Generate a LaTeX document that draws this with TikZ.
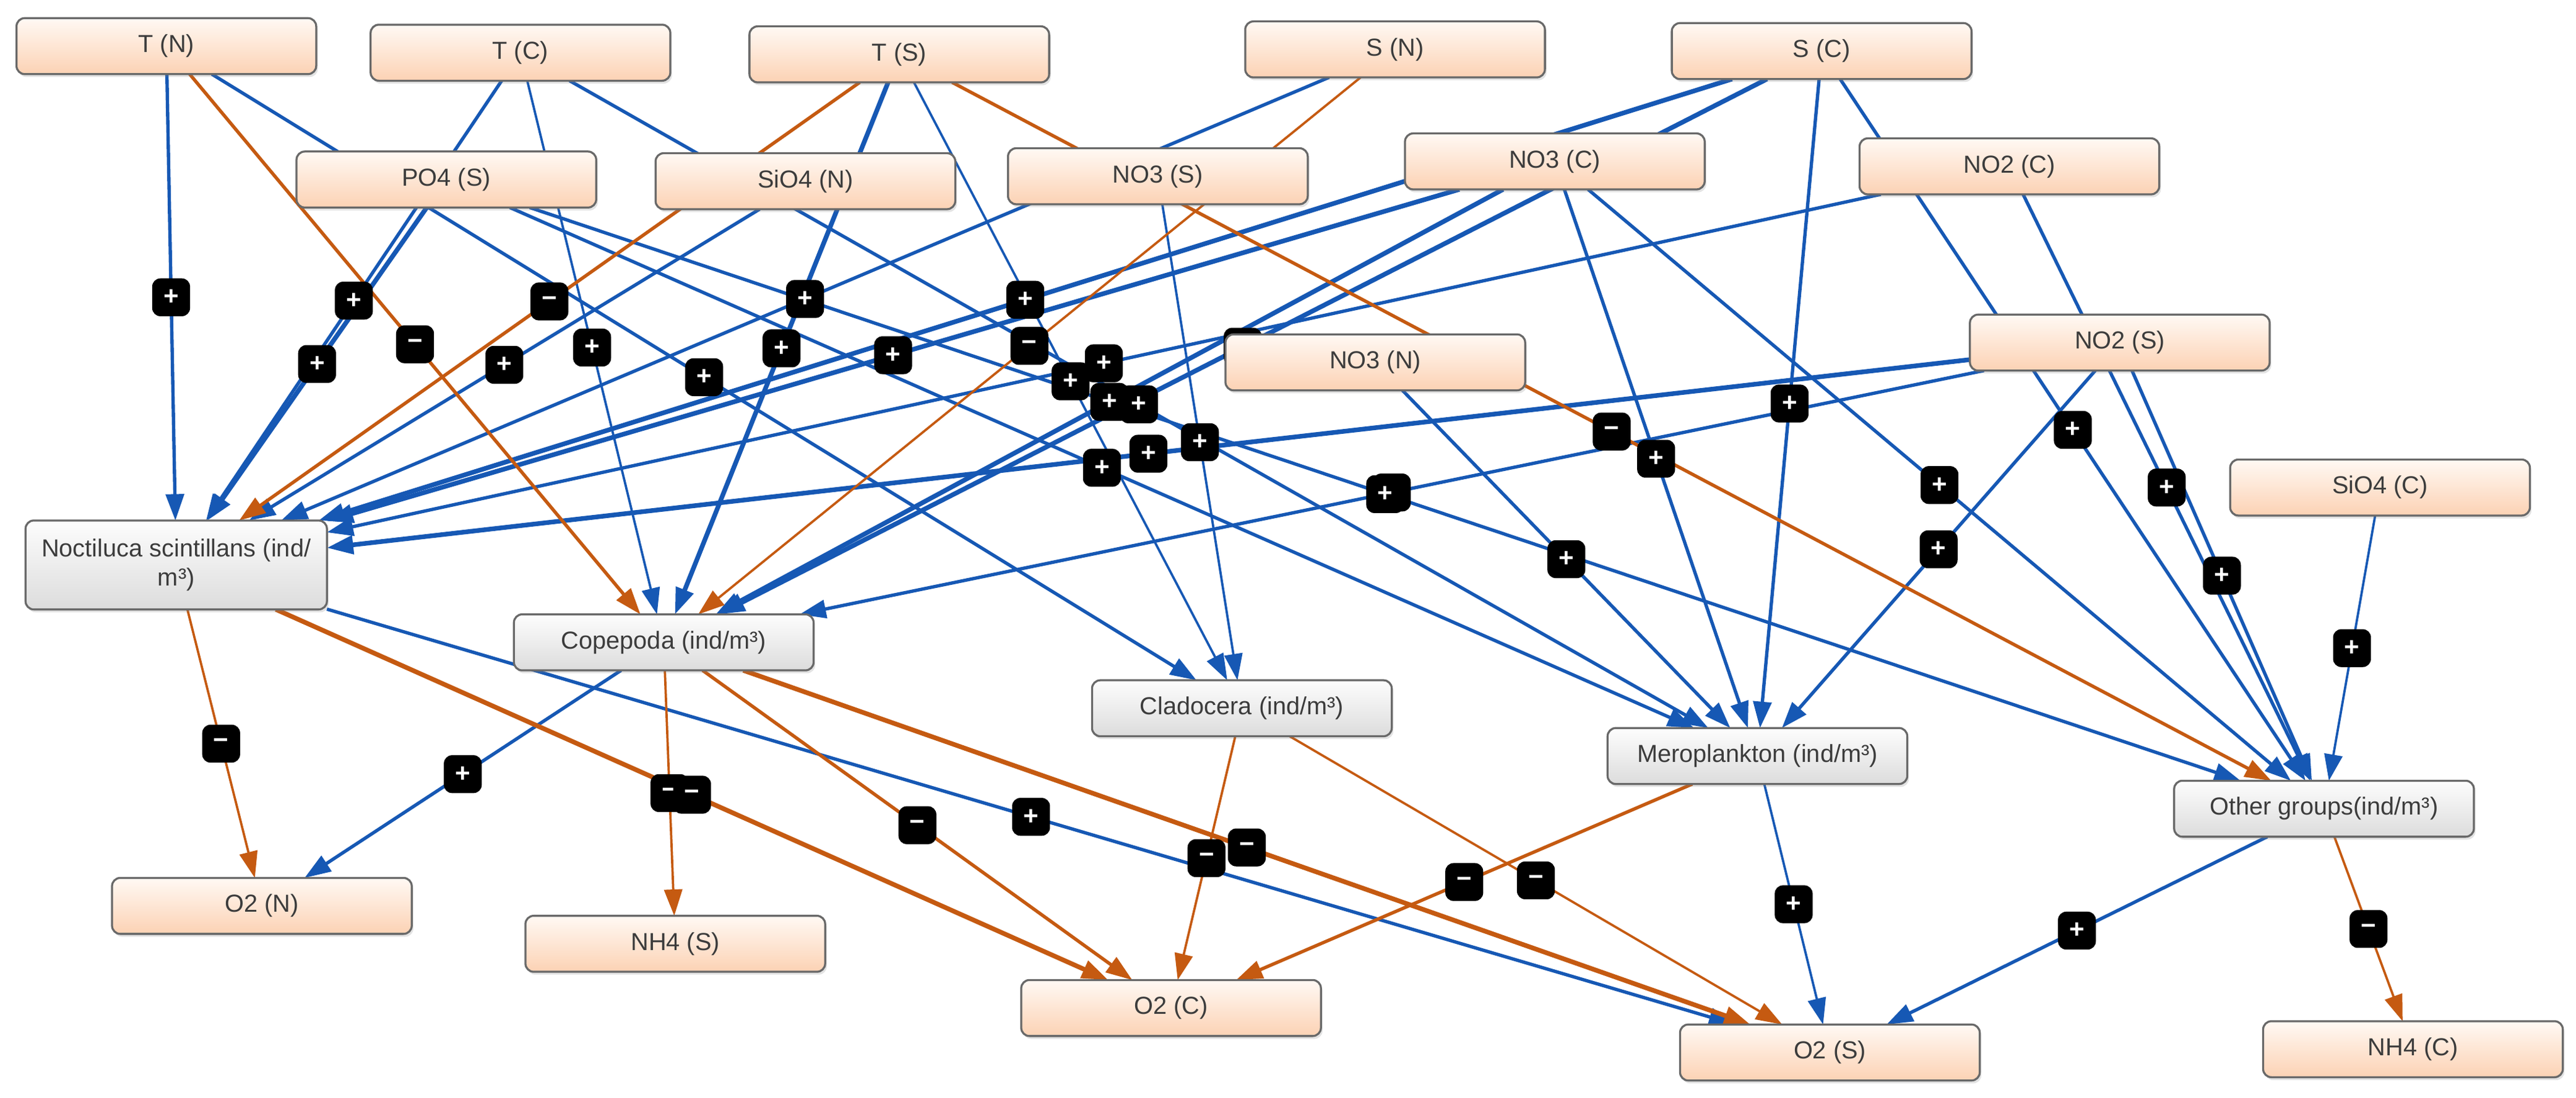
\documentclass[tikz,border=0pt]{standalone}
\usepackage{fontspec}
\setmainfont{Liberation Sans}
\usetikzlibrary{arrows.meta,shadows}
\definecolor{eblue}{RGB}{22,88,180}
\definecolor{eorange}{RGB}{197,90,17}
\definecolor{peachB}{RGB}{252,210,180}
\definecolor{peachT}{RGB}{255,249,244}
\definecolor{grayB}{RGB}{220,220,220}
\definecolor{grayT}{RGB}{253,253,253}
\definecolor{boxline}{RGB}{105,105,105}
\definecolor{txt}{RGB}{60,60,60}
\pgfdeclarelayer{edgelayer}
\pgfdeclarelayer{labellayer}
\pgfsetlayers{edgelayer,labellayer,main}
\tikzset{
 box/.style={draw=boxline, line width=0.7pt, rounded corners=0.1cm, minimum width=3.64cm, minimum height=0.68cm, inner sep=0pt, outer sep=0pt, text=txt, font=\fontsize{8.5}{10}\selectfont, drop shadow={opacity=0.22, shadow xshift=0.02cm, shadow yshift=-0.035cm}},
 env/.style={box, top color=peachT, bottom color=peachB},
 bio/.style={box, top color=grayT, bottom color=grayB},
 lbl/.style={fill=black, rounded corners=0.1cm, minimum width=0.46cm, minimum height=0.46cm, inner sep=0pt, text=white, font=\fontsize{9}{9}\selectfont\bfseries},
 posE/.style={draw=eblue, -{Triangle[length=0.32cm,width=0.22cm]}},
 negE/.style={draw=eorange, -{Triangle[length=0.32cm,width=0.22cm]}},
 wA/.style={line width=0.8pt}, wB/.style={line width=1.15pt}, wC/.style={line width=1.6pt},
}
\newcommand\cedge[5]{%
 \begin{pgfonlayer}{edgelayer}\draw[#1] (#2) -- (#3);\end{pgfonlayer}%
 \begin{pgfonlayer}{labellayer}\path (#2) -- node[lbl] (#5) {#4} (#3);\end{pgfonlayer}}
\begin{document}
\begin{tikzpicture}[x=0.02cm,y=-0.02cm]
\useasboundingbox (0,0) rectangle (1564,666.3);
% environment nodes
\node[env] (TN) at (101,28) {T (N)};
\node[env] (TC) at (316,32) {T (C)};
\node[env] (TS) at (546,33) {T (S)};
\node[env] (SN) at (847,30) {S (N)};
\node[env] (SC) at (1106,31) {S (C)};
\node[env] (PO4S) at (271,109) {PO4 (S)};
\node[env] (SiO4N) at (489,110) {SiO4 (N)};
\node[env] (NO3S) at (703,107) {NO3 (S)};
\node[env] (NO3C) at (944,98) {NO3 (C)};
\node[env] (NO2C) at (1220,101) {NO2 (C)};
\node[env] (NO3N) at (835,220) {NO3 (N)};
\node[env] (NO2S) at (1287,208) {NO2 (S)};
\node[env] (SiO4C) at (1445,296) {SiO4 (C)};
% biological nodes
\node[bio, minimum height=1.08cm, minimum width=3.66cm, align=center] (Noct) at (107,343) {Noctiluca scintillans (ind/\\m³)};
\node[bio] (Cope) at (403,390) {Copepoda (ind/m³)};
\node[bio] (Clad) at (754,430) {Cladocera (ind/m³)};
\node[bio] (Mero) at (1067,459) {Meroplankton (ind/m³)};
\node[bio] (Other) at (1411,491) {Other groups(ind/m³)};
% outputs
\node[env] (O2N) at (159,550) {O2 (N)};
\node[env] (NH4S) at (410,573) {NH4 (S)};
\node[env] (O2C) at (711,612) {O2 (C)};
\node[env] (O2S) at (1111,639) {O2 (S)};
\node[env] (NH4C) at (1465,637) {NH4 (C)};
% positive edges
\cedge{posE,wB}{TN}{Noct}{+}{l1}
\cedge{posE,wB}{TC}{Noct}{+}{l2}
\cedge{posE,wC}{PO4S}{Noct}{+}{l3}
\cedge{posE,wB}{SiO4N}{Noct}{+}{l4}
\cedge{posE,wB}{SN}{Noct}{+}{l5}
\cedge{posE,wC}{NO3C}{Noct}{+}{l6}
\cedge{posE,wC}{SC}{Noct}{+}{l7}
\cedge{posE,wB}{NO2C}{Noct}{+}{l8}
\cedge{posE,wC}{NO2S}{Noct}{+}{l9}
\cedge{posE,wA}{TC}{Cope}{+}{l10}
\cedge{posE,wC}{TS}{Cope}{+}{l11}
\cedge{posE,wC}{NO3C}{Cope}{+}{l12}
\cedge{posE,wC}{SC}{Cope}{+}{l13}
\cedge{posE,wB}{NO2S}{Cope}{+}{l14}
\cedge{posE,wB}{TN}{Clad}{+}{l15}
\cedge{posE,wA}{TS}{Clad}{+}{l16}
\cedge{posE,wA}{NO3S}{Clad}{+}{l17}
\cedge{posE,wB}{TC}{Mero}{+}{l18}
\cedge{posE,wB}{PO4S}{Mero}{+}{l19}
\cedge{posE,wB}{NO3C}{Mero}{+}{l20}
\cedge{posE,wB}{SC}{Mero}{+}{l21}
\cedge{posE,wB}{NO3N}{Mero}{+}{l22}
\cedge{posE,wB}{NO2S}{Mero}{+}{l23}
\cedge{posE,wB}{PO4S}{Other}{+}{l24}
\cedge{posE,wB}{SC}{Other}{+}{l25}
\cedge{posE,wB}{NO3C}{Other}{+}{l26}
\cedge{posE,wB}{NO2C}{Other}{+}{l27}
\cedge{posE,wB}{NO2S}{Other}{+}{l28}
\cedge{posE,wA}{SiO4C}{Other}{+}{l29}
\cedge{posE,wB}{Cope}{O2N}{+}{l30}
\cedge{posE,wB}{Noct}{O2S}{+}{l31}
\cedge{posE,wA}{Mero}{O2S}{+}{l32}
\cedge{posE,wB}{Other}{O2S}{+}{l33}
% negative edges
\cedge{negE,wB}{TN}{Cope}{−}{l34}
\cedge{negE,wB}{TS}{Noct}{−}{l35}
\cedge{negE,wA}{SN}{Cope}{−}{l36}
\cedge{negE,wB}{TS}{Other}{−}{l37}
\cedge{negE,wA}{Noct}{O2N}{−}{l38}
\cedge{negE,wA}{Cope}{NH4S}{−}{l39}
\cedge{negE,wC}{Noct}{O2C}{−}{l40}
\cedge{negE,wB}{Cope}{O2C}{−}{l41}
\cedge{negE,wA}{Clad}{O2C}{−}{l42}
\cedge{negE,wB}{Mero}{O2C}{−}{l43}
\cedge{negE,wC}{Cope}{O2S}{−}{l44}
\cedge{negE,wA}{Clad}{O2S}{−}{l45}
\cedge{negE,wA}{Other}{NH4C}{−}{l46}
\end{tikzpicture}
\end{document}
